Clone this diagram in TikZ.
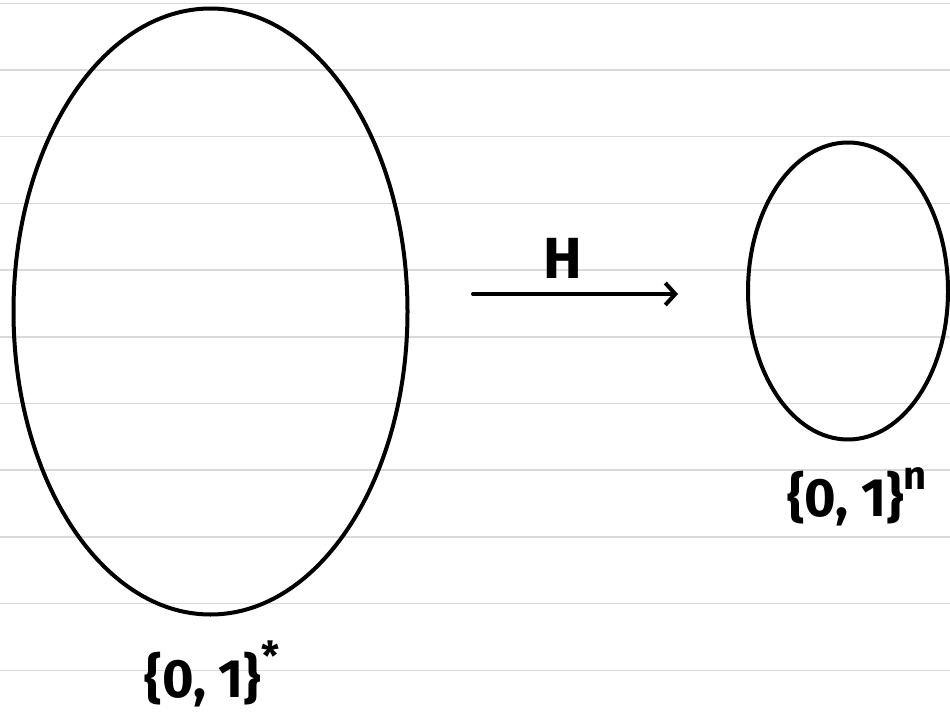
\documentclass[tikz,border=0pt]{standalone}
\usepackage{fontspec}
\setmainfont{Fira Sans}
\usetikzlibrary{shapes.geometric,arrows.meta}
\tikzset{
  rule/.style={draw=black!15, line width=1.5pt},
  setblob/.style={ellipse, draw=black, line width=4pt, inner sep=0pt},
  lab/.style={font=\bfseries\fontsize{54}{60}\selectfont, inner sep=0pt},
  maparrow/.style={line width=4pt, line cap=round, -{Straight Barb[length=10pt,width=22pt,line width=4pt]}}
}
\begin{document}
\begin{tikzpicture}[x=1pt,y=-1pt]
\useasboundingbox (0,0) rectangle (950,714);
\fill[white] (0,0) rectangle (950,714);
\foreach \k in {0,...,10} {
  \draw[rule] (0,{3.3+66.7*\k}) -- (950,{3.3+66.7*\k});
}
\node[setblob, minimum width=394pt, minimum height=606pt] (big) at (210.5,311.5) {};
\node[setblob, minimum width=200pt, minimum height=297pt] (small) at (848,291) {};
\coordinate (hstart) at (473,294);
\coordinate (hend) at (678,294);
\draw[maparrow] (hstart) -- (hend);
\node[lab, font=\bfseries\fontsize{58}{64}\selectfont] (hlab) at (563,258) {H};
\node[lab] (starlab) at (212,674) {\{0, 1\}\raisebox{0.5em}{\fontsize{40}{44}\selectfont *}};
\node[lab] (nlab) at (857,497) {\{0, 1\}\raisebox{0.5em}{\fontsize{40}{44}\selectfont n}};
\end{tikzpicture}
\end{document}
